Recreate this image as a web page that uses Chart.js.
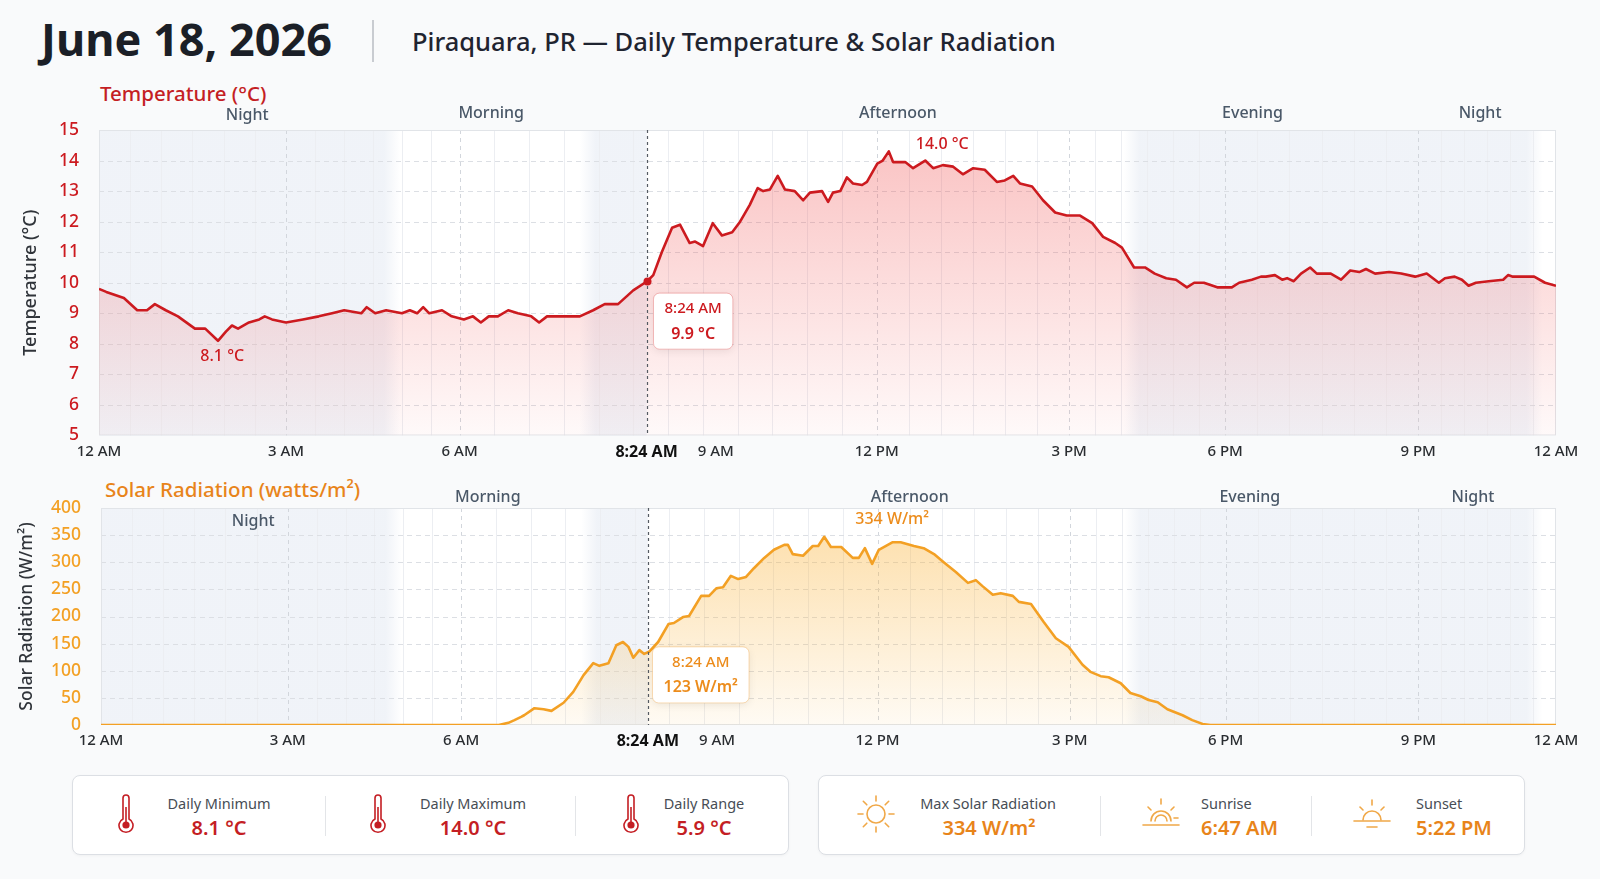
<!DOCTYPE html>
<html lang="en">
<head>
<meta charset="UTF-8">
<title>Piraquara, PR — Daily Temperature &amp; Solar Radiation</title>
<script src="https://cdn.jsdelivr.net/npm/chart.js"></script>
<style>
    body { margin: 0; background: #f9fafb; font-family: "Noto Sans", sans-serif; }
    .page { position: relative; width: 1600px; height: 879px; overflow: hidden; }
    .date { position: absolute; left: 41px; top: 9px; font-size: 45px; font-weight: 700; color: #1b1f27; line-height: 60px; white-space: nowrap; }
    .sep { position: absolute; left: 372px; top: 20px; width: 1.5px; height: 42px; background: #c9ccd1; }
    .subtitle { position: absolute; left: 412px; top: 24px; font-size: 25.5px; font-weight: 500; color: #1f2430; line-height: 34px; white-space: nowrap; }
    .panel-title { position: absolute; font-size: 20.5px; font-weight: 500; line-height: 26px; white-space: nowrap; }
    .chart-box { position: absolute; left: 0; width: 1600px; }
    .card { position: absolute; top: 775px; height: 80px; background: #fff; border: 1px solid #dcdfe4; border-radius: 8px; box-sizing: border-box; box-shadow: 0 1px 3px rgba(0,0,0,0.04); }
    .card .sep-v { position: absolute; top: 20px; width: 1px; height: 40px; background: #e3e5e8; }
    .card .icon { position: absolute; transform: translate(-50%, -50%); top: 38px; }
    .card .lbl { position: absolute; top: 17px; font-size: 14.5px; color: #474d55; white-space: nowrap; line-height: 20px; }
    .card .val { position: absolute; top: 39px; font-size: 20px; font-weight: 600; white-space: nowrap; line-height: 26px; }
    .card .mid { transform: translateX(-50%); }
    .red { color: #c41e24; }
    .orange { color: #e8841a; }
</style>
</head>
<body>
<div class="page">
    <div class="date">June 18, 2026</div>
    <div class="sep"></div>
    <div class="subtitle">Piraquara, PR — Daily Temperature &amp; Solar Radiation</div>

    <div class="panel-title red" style="left:100px; top:80px;">Temperature (°C)</div>
    <div class="chart-box" style="top:84px; height:382px;"><canvas id="tempChart"></canvas></div>

    <div class="panel-title orange" style="left:105px; top:476px;">Solar Radiation (watts/m²)</div>
    <div class="chart-box" style="top:470px; height:290px;"><canvas id="solarChart"></canvas></div>

    <!-- temperature summary -->
    <div class="card" style="left:72px; width:717px;">
        <svg class="icon" style="left:53px" width="16" height="42" viewBox="0 0 16 42"><path d="M5 5a3 3 0 0 1 6 0v21a7 7 0 1 1-6 0z" fill="none" stroke="#c41e24" stroke-width="1.6"/><line x1="8" y1="14" x2="8" y2="30" stroke="#c41e24" stroke-width="1.6"/><circle cx="8" cy="32" r="3.6" fill="#c41e24"/></svg>
        <div class="lbl mid" style="left:146px">Daily Minimum</div>
        <div class="val mid red" style="left:146px">8.1 °C</div>
        <div class="sep-v" style="left:252px"></div>
        <svg class="icon" style="left:305px" width="16" height="42" viewBox="0 0 16 42"><path d="M5 5a3 3 0 0 1 6 0v21a7 7 0 1 1-6 0z" fill="none" stroke="#c41e24" stroke-width="1.6"/><line x1="8" y1="14" x2="8" y2="30" stroke="#c41e24" stroke-width="1.6"/><circle cx="8" cy="32" r="3.6" fill="#c41e24"/></svg>
        <div class="lbl mid" style="left:400px">Daily Maximum</div>
        <div class="val mid red" style="left:400px">14.0 °C</div>
        <div class="sep-v" style="left:502px"></div>
        <svg class="icon" style="left:558px" width="16" height="42" viewBox="0 0 16 42"><path d="M5 5a3 3 0 0 1 6 0v21a7 7 0 1 1-6 0z" fill="none" stroke="#c41e24" stroke-width="1.6"/><line x1="8" y1="14" x2="8" y2="30" stroke="#c41e24" stroke-width="1.6"/><circle cx="8" cy="32" r="3.6" fill="#c41e24"/></svg>
        <div class="lbl mid" style="left:631px">Daily Range</div>
        <div class="val mid red" style="left:631px">5.9 °C</div>
    </div>

    <!-- solar summary -->
    <div class="card" style="left:818px; width:707px;">
        <svg class="icon" style="left:57px" width="44" height="44" viewBox="0 0 44 44" fill="none" stroke="#f0a848" stroke-width="1.6" stroke-linecap="round">
            <circle cx="22" cy="22" r="9"/>
            <line x1="22" y1="4" x2="22" y2="9"/><line x1="22" y1="35" x2="22" y2="40"/>
            <line x1="4" y1="22" x2="9" y2="22"/><line x1="35" y1="22" x2="40" y2="22"/>
            <line x1="31.2" y1="12.8" x2="34.7" y2="9.3"/><line x1="12.8" y1="12.8" x2="9.3" y2="9.3"/>
            <line x1="31.2" y1="31.2" x2="34.7" y2="34.7"/><line x1="12.8" y1="31.2" x2="9.3" y2="34.7"/>
        </svg>
        <div class="lbl mid" style="left:169px">Max Solar Radiation</div>
        <div class="val mid orange" style="left:170px">334 W/m²</div>
        <div class="sep-v" style="left:281px"></div>
        <svg class="icon" style="left:342px" width="44" height="40" viewBox="0 0 44 40" fill="none" stroke="#f0a848" stroke-width="1.6" stroke-linecap="round">
            <path d="M12 27a10 10 0 0 1 20 0"/><path d="M16 27a6 6 0 0 1 12 0"/>
            <line x1="22" y1="5" x2="22" y2="10"/><line x1="9" y1="13" x2="12" y2="16"/><line x1="35" y1="13" x2="32" y2="16"/>
            <line x1="35" y1="24" x2="39" y2="24"/>
            <line x1="4" y1="31" x2="40" y2="31"/>
        </svg>
        <div class="lbl" style="left:382px">Sunrise</div>
        <div class="val orange" style="left:382px">6:47 AM</div>
        <div class="sep-v" style="left:492px"></div>
        <svg class="icon" style="left:553px" width="44" height="40" viewBox="0 0 44 40" fill="none" stroke="#f0a848" stroke-width="1.6" stroke-linecap="round">
            <path d="M13 26a9 9 0 0 1 18 0"/>
            <line x1="22" y1="6" x2="22" y2="11"/><line x1="10" y1="13" x2="13" y2="16"/><line x1="34" y1="13" x2="31" y2="16"/>
            <line x1="4" y1="27" x2="40" y2="27"/><line x1="17" y1="33" x2="27" y2="33"/>
        </svg>
        <div class="lbl" style="left:597px">Sunset</div>
        <div class="val orange" style="left:597px">5:22 PM</div>
    </div>
</div>

<script>
    // --- data (x in hours along the drawn axis) ---
    const tempHours = [0, 0.12, 0.41, 0.63, 0.79, 0.92, 1.10, 1.30, 1.58, 1.75, 1.96, 2.09, 2.19, 2.29, 2.47, 2.64, 2.73, 2.85,
        3.08, 3.36, 3.62, 3.84, 4.04, 4.32, 4.41, 4.55, 4.73, 4.99, 5.12, 5.24, 5.34, 5.44, 5.65, 5.81, 6.01, 6.16, 6.29, 6.42,
        6.57, 6.74, 6.90, 7.12, 7.25, 7.38, 7.66, 7.76, 7.92, 8.14, 8.33, 8.55, 8.80, 9.03, 9.13, 9.27, 9.44, 9.57, 9.73, 9.82,
        9.95, 10.11, 10.26, 10.43, 10.56, 10.72, 10.85, 10.94, 11.05, 11.18, 11.30, 11.46, 11.60, 11.71, 11.91, 12.01, 12.09,
        12.21, 12.32, 12.42, 12.57, 12.65, 12.82, 12.91, 13.01, 13.08, 13.28, 13.41, 13.61, 13.74, 13.90, 14.07, 14.23, 14.40,
        14.59, 14.79, 14.92, 15.06, 15.17, 15.37, 15.55, 15.75, 15.94, 16.16, 16.36, 16.54, 16.74, 16.85, 17.05, 17.23, 17.39,
        17.58, 17.74, 17.92, 18.04, 18.20, 18.42, 18.66, 18.78, 18.99, 19.14, 19.22, 19.37, 19.49, 19.57, 19.68, 19.80, 19.95,
        20.06, 20.29, 20.46, 20.61, 20.76, 20.87, 21.02, 21.25, 21.45, 21.68, 21.87, 22.07, 22.17, 22.33, 22.45, 22.56, 22.68,
        22.89, 23.13, 23.21, 23.29, 23.64, 23.82, 24.00];
    const tempValues = [9.8, 9.7, 9.5, 9.1, 9.1, 9.3, 9.1, 8.9, 8.5, 8.5, 8.1, 8.4, 8.6, 8.5, 8.7, 8.8, 8.9, 8.8,
        8.7, 8.8, 8.9, 9.0, 9.1, 9.0, 9.2, 9.0, 9.1, 9.0, 9.1, 9.0, 9.2, 9.0, 9.1, 8.9, 8.8, 8.9, 8.7, 8.9,
        8.9, 9.1, 9.0, 8.9, 8.7, 8.9, 8.9, 8.9, 8.9, 9.1, 9.3, 9.3, 9.75, 10.05, 10.25, 11.0, 11.8, 11.9, 11.3, 11.35,
        11.2, 11.95, 11.55, 11.65, 12.0, 12.55, 13.1, 13.0, 13.05, 13.5, 13.05, 13.0, 12.7, 12.95, 13.0, 12.65, 12.95,
        13.0, 13.45, 13.25, 13.2, 13.3, 13.9, 14.0, 14.3, 13.95, 13.95, 13.75, 14.0, 13.75, 13.85, 13.8, 13.55, 13.75,
        13.7, 13.3, 13.35, 13.5, 13.25, 13.15, 12.7, 12.3, 12.2, 12.2, 11.95, 11.5, 11.3, 11.15, 10.5, 10.5, 10.3,
        10.15, 10.1, 9.85, 10.0, 10.0, 9.85, 9.85, 10.0, 10.1, 10.2, 10.2, 10.25, 10.1, 10.15, 10.05, 10.3, 10.5,
        10.3, 10.3, 10.1, 10.4, 10.35, 10.45, 10.3, 10.35, 10.3, 10.2, 10.3, 10.0, 10.15, 10.2, 10.1, 9.9, 10.0,
        10.05, 10.1, 10.25, 10.2, 10.2, 10.0, 9.9];

    const solarHours = [0, 6.56, 6.72, 6.82, 6.93, 6.98, 7.15, 7.30, 7.43, 7.63, 7.79, 7.96, 8.12, 8.22, 8.37, 8.50, 8.61,
        8.70, 8.78, 8.88, 8.96, 9.04, 9.19, 9.36, 9.45, 9.60, 9.70, 9.90, 10.03, 10.15, 10.26, 10.39, 10.51, 10.64, 10.77,
        10.94, 11.10, 11.27, 11.33, 11.41, 11.58, 11.74, 11.83, 11.93, 12.04, 12.21, 12.40, 12.50, 12.60, 12.72, 12.83,
        13.06, 13.19, 13.41, 13.57, 13.74, 13.90, 14.10, 14.30, 14.43, 14.54, 14.71, 14.84, 15.04, 15.14, 15.34, 15.55,
        15.75, 15.96, 16.19, 16.32, 16.49, 16.62, 16.82, 16.98, 17.15, 17.28, 17.43, 17.59, 17.84, 18.00, 18.17, 18.30, 24];
    const solarValues = [0, 0, 4, 9, 15, 18, 31, 29, 26, 41, 61, 92, 114, 109, 114, 147, 153,
        144, 124, 138, 131, 135, 153, 186, 188, 199, 201, 238, 238, 252, 254, 275, 269, 273, 289,
        308, 323, 332, 332, 315, 312, 330, 330, 347, 328, 328, 308, 308, 326, 297, 323,
        337, 337, 330, 326, 315, 300, 282, 262, 267, 256, 240, 243, 238, 227, 223, 190,
        160, 144, 111, 98, 90, 88, 77, 59, 53, 46, 42, 29, 18, 9, 2, 0, 0];

    // x axis: where each label sits on the drawn axis, and the clock time it names
    const xTickLabels = ['12 AM', '3 AM', '6 AM', '8:24 AM', '9 AM', '12 PM', '3 PM', '6 PM', '9 PM', '12 AM'];
    const xTickPos    = [0, 3.08, 5.94, 9.02, 10.16, 12.81, 15.98, 18.55, 21.73, 24];
    const xTickClock  = [0, 3, 6, 8.4, 9, 12, 15, 18, 21, 24];
    const majorTicks  = [0, 1, 2, 5, 6, 7, 8, 9];

    // day periods
    const periodNames = ['Night', 'Morning', 'Afternoon', 'Evening', 'Night'];
    const periodPosTemp = [2.44, 6.46, 13.16, 19.0, 22.75];
    const periodPosSolar = [2.51, 6.38, 13.34, 18.95, 22.63];
    const shadeBands = [[0, 4.96], [7.92, 9.02], [16.88, 23.78]];

    // hovered reading and peak labels
    const cursorHour = 9.02;
    const cursorTime = '8:24 AM';
    const cursorTemp = '9.9 °C';
    const cursorSolar = '123 W/m²';
    const tempNotes = [{ x: 2.03, y: 7.59, text: '8.1 °C' }, { x: 13.89, y: 14.54, text: '14.0 °C' }];
    const solarNotes = [{ x: 13.05, y: 378, text: '334 W/m²' }];

    const FONT = '"Noto Sans", sans-serif';

    function valueAt(hours, values, h) {
        for (let i = 1; i < hours.length; i++) {
            if (hours[i] >= h) {
                const t = (h - hours[i - 1]) / (hours[i] - hours[i - 1]);
                return values[i - 1] + t * (values[i] - values[i - 1]);
            }
        }
        return values[values.length - 1];
    }

    // background, bands, grid, cursor and labels for one panel
    const panelPlugin = {
        id: 'panel',
        beforeDatasetsDraw(chart, args, o) {
            const { ctx, chartArea: a, scales: { x, y } } = chart;
            ctx.save();
            ctx.fillStyle = '#ffffff';
            ctx.fillRect(a.left, a.top, a.width, a.height);

            const soft = v => v > 0 && v < 24 && v !== cursorHour;
            shadeBands.forEach(([s, e]) => {
                const x0 = x.getPixelForValue(s), x1 = x.getPixelForValue(e);
                const f = Math.min(0.45, 16 / (x1 - x0));
                const g = ctx.createLinearGradient(x0, 0, x1, 0);
                const full = 'rgba(222,229,240,0.45)', none = 'rgba(222,229,240,0)';
                g.addColorStop(0, soft(s) ? none : full);
                g.addColorStop(f, full);
                g.addColorStop(1 - f, full);
                g.addColorStop(1, soft(e) ? none : full);
                ctx.fillStyle = g;
                ctx.fillRect(x0, a.top, x1 - x0, a.height);
            });

            // minor vertical lines every half hour between labelled ticks
            ctx.lineWidth = 1;
            ctx.strokeStyle = '#eceef2';
            for (let k = 1; k < majorTicks.length; k++) {
                const i0 = majorTicks[k - 1], i1 = majorTicks[k];
                const n = Math.round((xTickClock[i1] - xTickClock[i0]) * 2);
                for (let j = 1; j < n; j++) {
                    const px = Math.round(x.getPixelForValue(xTickPos[i0] + (xTickPos[i1] - xTickPos[i0]) * j / n)) + 0.5;
                    ctx.beginPath(); ctx.moveTo(px, a.top); ctx.lineTo(px, a.bottom); ctx.stroke();
                }
            }
            // dashed vertical lines at labelled hours
            ctx.strokeStyle = '#d2d6dc';
            ctx.setLineDash([4, 4]);
            majorTicks.forEach(i => {
                if (xTickPos[i] <= 0 || xTickPos[i] >= 24) return;
                const px = Math.round(x.getPixelForValue(xTickPos[i])) + 0.5;
                ctx.beginPath(); ctx.moveTo(px, a.top); ctx.lineTo(px, a.bottom); ctx.stroke();
            });
            // dashed horizontal lines
            ctx.strokeStyle = '#dcdfe4';
            ctx.setLineDash([5, 4]);
            y.ticks.forEach(t => {
                if (t.value <= y.min || t.value >= y.max) return;
                const py = Math.round(y.getPixelForValue(t.value)) + 0.5;
                ctx.beginPath(); ctx.moveTo(a.left, py); ctx.lineTo(a.right, py); ctx.stroke();
            });
            ctx.setLineDash([]);
            ctx.strokeStyle = '#e1e4e8';
            ctx.strokeRect(a.left + 0.5, a.top + 0.5, a.width - 1, a.height - 1);
            ctx.restore();
        },
        afterDatasetsDraw(chart, args, o) {
            const { ctx, chartArea: a, scales: { x, y } } = chart;
            ctx.save();
            // cursor
            const cx = Math.round(x.getPixelForValue(cursorHour)) + 0.5;
            ctx.strokeStyle = '#555b63';
            ctx.lineWidth = 1.2;
            ctx.setLineDash([3, 3]);
            ctx.beginPath(); ctx.moveTo(cx, a.top); ctx.lineTo(cx, a.bottom); ctx.stroke();
            ctx.setLineDash([]);

            if (o.dot) {
                const v = valueAt(o.hours, o.values, cursorHour);
                ctx.fillStyle = o.color;
                ctx.beginPath(); ctx.arc(cx, y.getPixelForValue(v), 4, 0, Math.PI * 2); ctx.fill();
            }

            // reading box
            ctx.font = '500 15px ' + FONT;
            const w1 = ctx.measureText(cursorTime).width;
            ctx.font = '600 16px ' + FONT;
            const w2 = ctx.measureText(o.reading).width;
            const bw = Math.max(w1, w2) + 22, bh = 56;
            const bx = cx + o.boxDx, by = y.getPixelForValue(o.boxTop);
            ctx.shadowColor = 'rgba(0,0,0,0.08)';
            ctx.shadowBlur = 8;
            ctx.shadowOffsetY = 2;
            ctx.fillStyle = '#ffffff';
            ctx.beginPath(); ctx.roundRect(bx, by, bw, bh, 6); ctx.fill();
            ctx.shadowColor = 'transparent';
            ctx.strokeStyle = o.boxBorder;
            ctx.lineWidth = 1;
            ctx.stroke();
            ctx.fillStyle = o.color;
            ctx.textAlign = 'center';
            ctx.textBaseline = 'middle';
            ctx.font = '500 15px ' + FONT;
            ctx.fillText(cursorTime, bx + bw / 2, by + 16);
            ctx.font = '600 16px ' + FONT;
            ctx.fillText(o.reading, bx + bw / 2, by + 41);

            // peak / low labels
            ctx.font = '500 16px ' + FONT;
            o.notes.forEach(n => ctx.fillText(n.text, x.getPixelForValue(n.x), y.getPixelForValue(n.y)));

            // period names
            ctx.font = '500 16px ' + FONT;
            ctx.fillStyle = '#4a5868';
            periodNames.forEach((p, i) => ctx.fillText(p, x.getPixelForValue(o.periodPos[i]), o.periodY[i]));
            ctx.restore();
        }
    };

    function makeChart(id, cfg) {
        const c = cfg.color;
        return new Chart(document.getElementById(id), {
            type: 'line',
            data: {
                datasets: [{
                    data: cfg.hours.map((h, i) => ({ x: h, y: cfg.values[i] })),
                    borderColor: c,
                    borderWidth: 2.6,
                    borderJoinStyle: 'round',
                    pointRadius: 0,
                    tension: 0,
                    fill: 'start',
                    backgroundColor: ctx => {
                        const a = ctx.chart.chartArea;
                        if (!a) return 'transparent';
                        const g = ctx.chart.ctx.createLinearGradient(0, a.top, 0, a.bottom);
                        g.addColorStop(0, cfg.fillTop);
                        g.addColorStop(1, cfg.fillBottom);
                        return g;
                    }
                }]
            },
            options: {
                responsive: true,
                maintainAspectRatio: false,
                animation: false,
                layout: { padding: { top: cfg.padTop, right: 44, left: 0, bottom: 0 } },
                plugins: {
                    legend: { display: false },
                    tooltip: { enabled: false },
                    panel: cfg.panel
                },
                scales: {
                    x: {
                        type: 'linear',
                        min: 0,
                        max: 24,
                        afterBuildTicks: s => { s.ticks = xTickPos.map(v => ({ value: v })); },
                        afterFit: s => { s.height = cfg.xHeight; },
                        grid: { display: false, drawTicks: false },
                        border: { display: false },
                        ticks: {
                            autoSkip: false,
                            maxRotation: 0,
                            padding: 7,
                            callback: (v, i) => xTickLabels[i],
                            color: t => t.index === 3 ? '#111111' : '#2a2d31',
                            font: t => t.index === 3 ? { family: FONT, size: 16, weight: '700' } : { family: FONT, size: 15, weight: '500' }
                        }
                    },
                    y: {
                        min: cfg.yMin,
                        max: cfg.yMax,
                        afterFit: s => { s.width = cfg.yWidth; },
                        grid: { display: false, drawTicks: false },
                        border: { display: false },
                        ticks: { stepSize: cfg.yStep, padding: cfg.yPad, color: c, font: { family: FONT, size: 17.5, weight: '500' } },
                        title: { display: true, text: cfg.yTitle, color: '#30343a', font: { family: FONT, size: cfg.titleSize, weight: '500' }, padding: { top: cfg.titlePad, bottom: 0 } }
                    }
                }
            },
            plugins: [panelPlugin]
        });
    }

    makeChart('tempChart', {
        hours: tempHours, values: tempValues, color: '#cc1a1f',
        fillTop: 'rgba(240,72,72,0.34)', fillBottom: 'rgba(240,72,72,0.03)',
        padTop: 46, xHeight: 30, yMin: 5, yMax: 15, yStep: 1, yWidth: 99, yPad: 20,
        yTitle: 'Temperature (°C)', titlePad: 20, titleSize: 18,
        panel: {
            dot: true, hours: tempHours, values: tempValues, color: '#cc1a1f', reading: cursorTemp,
            boxDx: 6, boxTop: 9.66, boxBorder: 'rgba(220,38,38,0.28)',
            notes: tempNotes, periodPos: periodPosTemp, periodY: [31, 29, 29, 29, 29]
        }
    });

    makeChart('solarChart', {
        hours: solarHours, values: solarValues, color: '#f3a024',
        fillTop: 'rgba(250,180,60,0.46)', fillBottom: 'rgba(250,180,60,0.06)',
        padTop: 38, xHeight: 35, yMin: 0, yMax: 400, yStep: 50, yWidth: 101, yPad: 20,
        yTitle: 'Solar Radiation (W/m²)', titlePad: 17, titleSize: 17.5,
        panel: {
            dot: false, color: '#ec8c1c', reading: cursorSolar,
            boxDx: 4, boxTop: 144, boxBorder: 'rgba(240,160,60,0.35)',
            notes: solarNotes, periodPos: periodPosSolar, periodY: [51, 27, 27, 27, 27]
        }
    });
</script>
</body>
</html>
